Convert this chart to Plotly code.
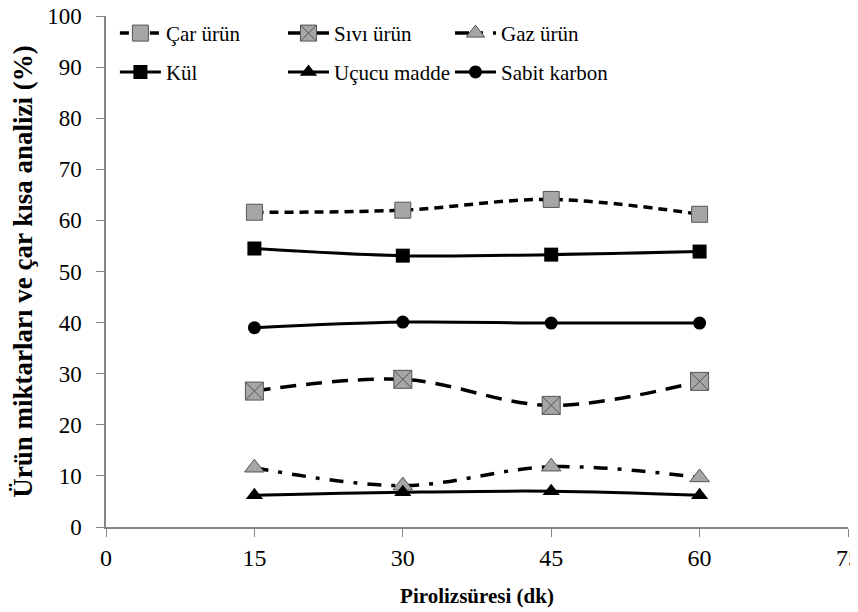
'''
    Piroliz suresine gore urun miktarlari ve car kisa analizi.
'''

import plotly.graph_objects as go

# veriler
sure = [15, 30, 45, 60]
car_urun = [61.6, 62.0, 64.1, 61.2]
sivi_urun = [26.6, 28.9, 23.8, 28.5]
gaz_urun = [11.6, 8.1, 11.8, 9.7]
kul = [54.5, 53.1, 53.3, 53.9]
ucucu_madde = [6.2, 6.8, 7.0, 6.2]
sabit_karbon = [39.0, 40.1, 39.9, 39.9]

font_ad = "Times New Roman"
gri = '#a6a6a6'
koyu = '#555555'

fig = go.Figure()

#ust satir: kesikli seriler (her biri kendi legend kutusunda)
fig.add_trace(go.Scatter(
    x=sure, y=car_urun, name='Çar ürün', mode='lines+markers',
    line=dict(color='black', width=3.5, dash='9px,6px', shape='spline'),
    marker=dict(symbol='square', size=16, color=gri, line=dict(color=koyu, width=1)),
    legend='legend7'))
fig.add_trace(go.Scatter(
    x=sure, y=sivi_urun, name='Sıvı ürün', mode='lines+markers',
    line=dict(color='black', width=3.5, dash='16px,10px', shape='spline'),
    marker=dict(symbol='square-x', size=18, color=gri, line=dict(color=koyu, width=1)),
    legend='legend2'))
fig.add_trace(go.Scatter(
    x=sure, y=gaz_urun, name='Gaz ürün', mode='lines+markers',
    line=dict(color='black', width=3.5, dash='14px,10px,4px,10px', shape='spline'),
    marker=dict(symbol='triangle-up', size=17, color=gri, line=dict(color=koyu, width=1)),
    legend='legend3'))

#alt satir: duz cizgili seriler
fig.add_trace(go.Scatter(
    x=sure, y=kul, name='Kül', mode='lines+markers',
    line=dict(color='black', width=3, shape='spline'),
    marker=dict(symbol='square', size=14, color='black'),
    legend='legend4'))
fig.add_trace(go.Scatter(
    x=sure, y=ucucu_madde, name='Uçucu madde', mode='lines+markers',
    line=dict(color='black', width=3, shape='spline'),
    marker=dict(symbol='triangle-up', size=15, color='black'),
    legend='legend5'))
fig.add_trace(go.Scatter(
    x=sure, y=sabit_karbon, name='Sabit karbon', mode='lines+markers',
    line=dict(color='black', width=3, shape='spline'),
    marker=dict(symbol='circle', size=13, color='black'),
    legend='legend6'))

legend_ortak = dict(orientation='h', xanchor='left', yanchor='top',
                    bgcolor='rgba(0,0,0,0)', itemwidth=41,
                    font=dict(family=font_ad, size=21, color='black'))
kolon_x = [0.012, 0.2385, 0.4636]
# legend kutulari sayfanin icinde kalmali, yoksa kenar boslugu buyuyor
satir_y = [1.006, 0.93]

# sayfa 8px kaydirildigi icin kenar bosluklari buna gore
fig.update_layout(
    width=858, height=612,
    template='plotly_white',
    plot_bgcolor='white', paper_bgcolor='white',
    margin=dict(l=98, r=18, t=5, b=93),
    font=dict(family=font_ad, size=20, color='black'),
    legend7=dict(x=kolon_x[0], y=satir_y[0], **legend_ortak),
    legend2=dict(x=kolon_x[1], y=satir_y[0], **legend_ortak),
    legend3=dict(x=kolon_x[2], y=satir_y[0], **legend_ortak),
    legend4=dict(x=kolon_x[0], y=satir_y[1], **legend_ortak),
    legend5=dict(x=kolon_x[1], y=satir_y[1], **legend_ortak),
    legend6=dict(x=kolon_x[2], y=satir_y[1], **legend_ortak),
)

fig.update_xaxes(
    range=[0, 75], tickvals=[0, 15, 30, 45, 60, 75],
    showgrid=False, zeroline=False, showline=True, automargin=False,
    linecolor='#868686', linewidth=1.5,
    ticks='outside', ticklen=8, tickcolor='#868686',
    ticklabelstandoff=0,
    tickfont=dict(family=font_ad, size=24),
    title=dict(text='<b>Pirolizsüresi (dk)</b>', font=dict(family=font_ad, size=21), standoff=19))
fig.update_yaxes(
    range=[0, 100], dtick=10,
    showgrid=False, zeroline=False, showline=True, automargin=False,
    linecolor='#868686', linewidth=1.5,
    ticks='outside', ticklen=8, tickcolor='#868686',
    ticklabelstandoff=10, ticklabeloverflow='allow',
    tickfont=dict(family=font_ad, size=23),
    title=dict(text='<b>Ürün miktarları ve çar kısa analizi (%)</b>', font=dict(family=font_ad, size=27), standoff=12))

fig.write_html("out.html")
